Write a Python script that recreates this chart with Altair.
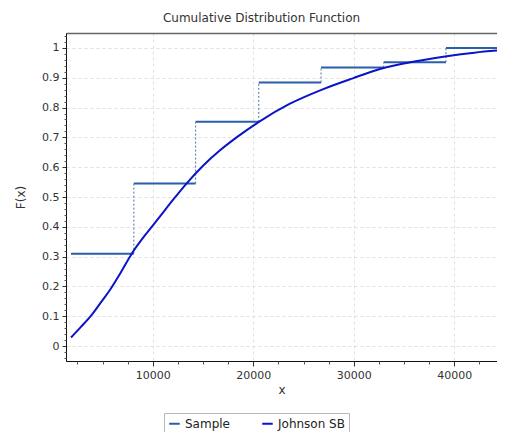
import altair as alt
import pandas as pd

# ---- data ----
step_start = [1860, 8110, 14260, 20540, 26740, 32980, 39170]
step_end = [8110, 14260, 20540, 26740, 32980, 39170, 45000]
step_level = [0.31, 0.545, 0.752, 0.884, 0.934, 0.952, 1.0]

jump_x = [8110, 14260, 20540, 26740, 32980, 39170]
jump_from = [0.31, 0.545, 0.752, 0.884, 0.934, 0.952]
jump_to = [0.545, 0.752, 0.884, 0.934, 0.952, 1.0]

jsb_x = [1860, 2800, 3900, 4800, 5730, 6800, 7885, 9370, 10700, 12000, 13500,
         15000, 16600, 18300, 20600, 23600, 26900, 29900, 32600, 36500, 39240, 42000, 45000]
jsb_f = [0.029, 0.063, 0.104, 0.145, 0.188, 0.246, 0.309, 0.378, 0.434, 0.49, 0.551,
         0.605, 0.654, 0.699, 0.753, 0.812, 0.861, 0.898, 0.929, 0.957, 0.972, 0.984, 0.993]

series_names = ["Sample", "Johnson SB"]
series_colors = ["#2a5ea8", "#0a14c8"]

x_major = [10000, 20000, 30000, 40000]
x_minor = [v for v in range(2500, 45001, 2500) if v % 10000 != 0]
y_major = [round(i * 0.1, 2) for i in range(0, 11)]
y_minor = [round(i * 0.02, 2) for i in range(-2, 53) if i % 5 != 0]

x_domain = [1360, 44250]
y_domain = [-0.05, 1.05]

FONT = "DejaVu Sans"

steps_df = pd.DataFrame({"x0": step_start, "x1": step_end, "F": step_level,
                         "series": ["Sample"] * len(step_start)})
jumps_df = pd.DataFrame({"x": jump_x, "F0": jump_from, "F1": jump_to})
jsb_df = pd.DataFrame({"x": jsb_x, "F": jsb_f, "series": ["Johnson SB"] * len(jsb_x)})

xs = alt.Scale(domain=x_domain, nice=False, zero=False)
ys = alt.Scale(domain=y_domain, nice=False, zero=False)
color_scale = alt.Scale(domain=series_names, range=series_colors)

main_x_axis = alt.Axis(values=x_major, orient="bottom", title="x", format="d",
                       grid=True, gridColor="#e4e0d5", gridDash=[3, 3],
                       domainColor="#111", tickColor="#333", tickSize=5,
                       labelFont=FONT, labelFontSize=11, labelColor="#333",
                       labelPadding=3, titleFont=FONT, titleFontSize=12,
                       titleFontWeight="normal", titleColor="#333", titlePadding=4)
main_y_axis = alt.Axis(values=y_major, orient="left", title="F(x)", format="~g",
                       grid=True, gridColor="#e4e0d5", gridDash=[3, 3],
                       domainColor="#111", tickColor="#333", tickSize=4,
                       labelFont=FONT, labelFontSize=11, labelColor="#333",
                       labelPadding=3, titleFont=FONT, titleFontSize=12,
                       titleFontWeight="normal", titleColor="#333", titlePadding=14)

steps = alt.Chart(steps_df).mark_rule(strokeWidth=2, clip=True).encode(
    x=alt.X("x0:Q", scale=xs, axis=main_x_axis),
    x2="x1:Q",
    y=alt.Y("F:Q", scale=ys, axis=main_y_axis),
    color=alt.Color("series:N", scale=color_scale,
                    legend=alt.Legend(title=None, orient="none", direction="horizontal",
                                      legendX=98, legendY=380,
                                      strokeColor="#b8b8b8", fillColor="white",
                                      padding=4, columnPadding=28,
                                      symbolType="stroke", symbolStrokeWidth=2,
                                      symbolSize=110, labelFont=FONT,
                                      labelFontSize=12, labelColor="#222")),
)

jumps = alt.Chart(jumps_df).mark_rule(strokeWidth=1, strokeDash=[2, 2],
                                      color="#4a70a8", clip=True).encode(
    x=alt.X("x:Q", scale=xs, axis=None),
    y=alt.Y("F0:Q", scale=ys, axis=None),
    y2="F1:Q",
)

curve = alt.Chart(jsb_df).mark_line(strokeWidth=2, interpolate="monotone", clip=True).encode(
    x=alt.X("x:Q", scale=xs, axis=None),
    y=alt.Y("F:Q", scale=ys, axis=None),
    color=alt.Color("series:N", scale=color_scale),
)

minor = alt.Chart(jsb_df).mark_point(opacity=0).encode(
    x=alt.X("x:Q", scale=xs,
            axis=alt.Axis(values=x_minor, orient="bottom", labels=False, grid=False,
                          domain=False, tickSize=3, tickColor="#555", title=None)),
    y=alt.Y("F:Q", scale=ys,
            axis=alt.Axis(values=y_minor, orient="left", labels=False, grid=False,
                          domain=False, tickSize=2, tickColor="#555", title=None)),
)

border = alt.Chart(jsb_df).mark_point(opacity=0).encode(
    x=alt.X("x:Q", scale=xs,
            axis=alt.Axis(orient="top", labels=False, grid=False, ticks=False,
                          domain=True, domainColor="#666", domainWidth=1.5, title=None)),
    y=alt.Y("F:Q", scale=ys, axis=None),
)

chart = alt.layer(steps, jumps, curve, minor, border).resolve_axis(
    x="independent", y="independent"
).properties(
    width=431,
    height=328,
    padding={"left": 58, "top": 25, "right": 0, "bottom": 71},
    autosize=alt.AutoSizeParams(type="none"),
    title=alt.Title("Cumulative Distribution Function", font=FONT, fontSize=12,
                    fontWeight="normal", color="#333", dx=-20, offset=8),
).configure_view(stroke=None).configure(background="white")

chart.save("out.html", embed_options={"renderer": "svg", "actions": False})
